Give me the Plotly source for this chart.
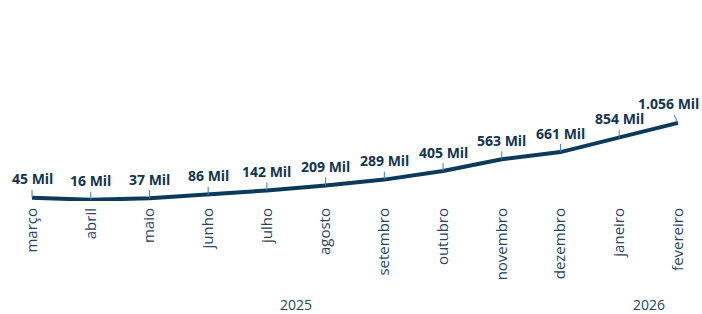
import plotly.graph_objects as go

months = ["março", "abril", "maio", "junho", "julho", "agosto", "setembro",
          "outubro", "novembro", "dezembro", "janeiro", "fevereiro"]
values = [45, 16, 37, 86, 142, 209, 289, 405, 563, 661, 854, 1056]
labels = ["45 Mil", "16 Mil", "37 Mil", "86 Mil", "142 Mil", "209 Mil", "289 Mil",
          "405 Mil", "563 Mil", "661 Mil", "854 Mil", "1.056 Mil"]
years = ["2025", "2026"]
year_spans = [(0, 9), (10, 11)]

x = list(range(len(months)))

fig = go.Figure()
fig.add_trace(go.Scatter(x=x, y=values, mode="lines",
                         line=dict(color="#0c3a5a", width=4),
                         hoverinfo="skip", showlegend=False))

annotations = []
for i, (v, lab) in enumerate(zip(values, labels)):
    ax = -9 if i == len(values) - 1 else 0
    annotations.append(dict(
        x=i, y=v, xref="x", yref="y", text="<b>" + lab + "</b>",
        showarrow=True, arrowhead=0, arrowwidth=1, arrowcolor="#3d7dbf",
        ax=ax, ay=-19,
        font=dict(family="Open Sans", size=14, color="#123550"),
    ))

for yr, (a, b) in zip(years, year_spans):
    annotations.append(dict(
        x=(a + b) / 2, y=0, xref="x", yref="paper", yanchor="top",
        yshift=-92, text=yr, showarrow=False,
        font=dict(family="Open Sans", size=14, color="#27435f"),
    ))

fig.update_layout(
    width=702, height=314,
    margin=dict(l=0, r=0, t=10, b=113, autoexpand=False),
    paper_bgcolor="white", plot_bgcolor="white",
    annotations=annotations,
    xaxis=dict(range=[-0.545, 11.41], tickvals=x, ticktext=months,
               tickangle=-90, showgrid=False, zeroline=False, showline=False,
               ticks="", automargin=False, ticklabelstandoff=3,
               tickfont=dict(family="Open Sans", size=15, color="#27435f")),
    yaxis=dict(range=[0, 2580], visible=False, showgrid=False, zeroline=False,
               automargin=False),
)

fig.write_html("out.html", config={"displayModeBar": False},
               post_script="document.body.style.margin='0';")
